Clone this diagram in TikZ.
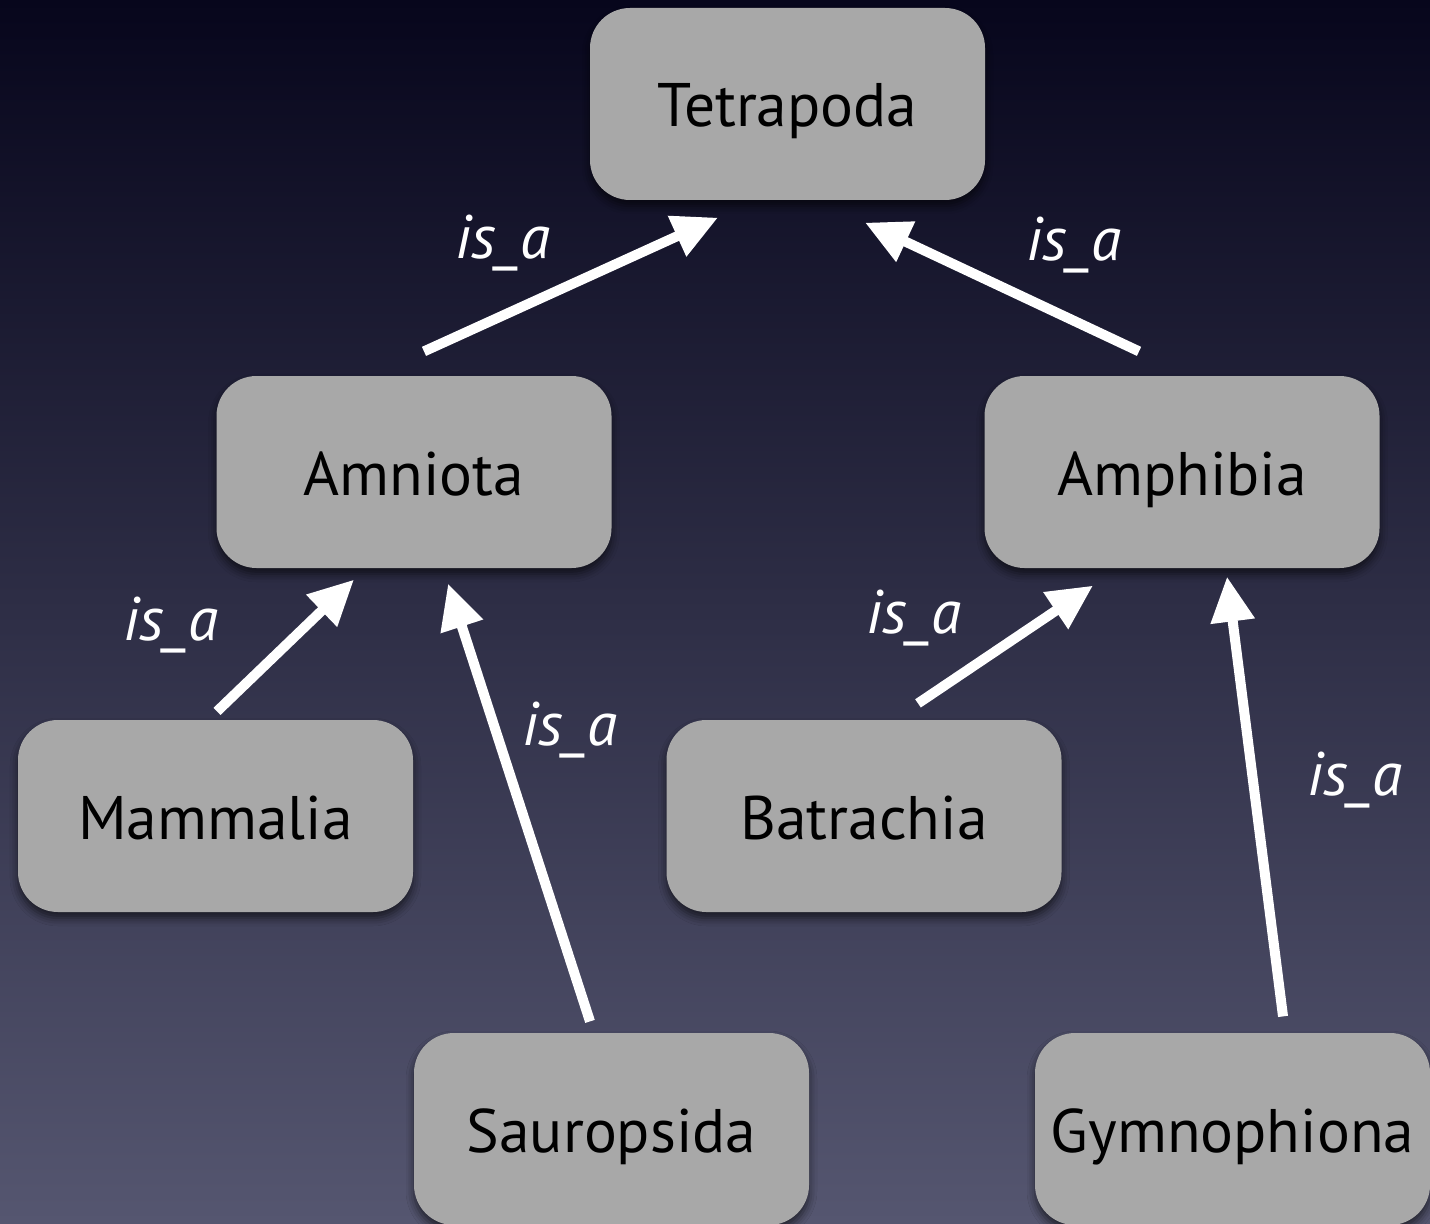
\documentclass[tikz,border=0pt]{standalone}
\usepackage{fontspec}
\setmainfont{PT Sans}
\usetikzlibrary{arrows.meta,shadows.blur}
\definecolor{bgtop}{HTML}{07061C}
\definecolor{bgbot}{HTML}{555670}
\definecolor{taxongray}{HTML}{A8A8A8}
\begin{document}
\begin{tikzpicture}[x=1cm,y=1cm,line width=.35pt,font=\fontsize{17.5}{21}\selectfont,
  taxon/.style={fill=taxongray,rounded corners=.4cm,minimum width=3.95cm,minimum height=1.92cm,inner sep=0pt,
    text height=.56cm,text depth=.10cm,
    blur shadow={shadow xshift=0pt,shadow yshift=-.06cm,shadow blur radius=.08cm,shadow opacity=60}},
  isa/.style={draw=white,line width=.1cm,-{Triangle[length=.45cm,width=.42cm]}},
  isalabel/.style={text=white,inner sep=0pt,font=\fontsize{17.5}{21}\selectfont\itshape}]
\useasboundingbox (0,0) rectangle (14.3,12.23);
\shade[top color=bgtop,bottom color=bgbot] (0,0) rectangle (14.3,12.23);
\node[taxon] (tetrapoda) at (7.875,11.19) {Tetrapoda};
\node[taxon] (amniota) at (4.14,7.51) {Amniota};\node[taxon] (amphibia) at (11.82,7.51) {Amphibia};
\node[taxon] (mammalia) at (2.155,4.07) {Mammalia};\node[taxon] (batrachia) at (8.64,4.07) {Batrachia};
\node[taxon] (sauropsida) at (6.115,.94) {Sauropsida};\node[taxon] (gymnophiona) at (12.325,.94) {Gymnophiona};
\draw[isa] ([shift={(.10,.24)}]amniota.north) -- ([shift={(-.695,-.17)}]tetrapoda.south);
\draw[isa] ([shift={(-.43,.24)}]amphibia.north) -- ([shift={(.775,-.22)}]tetrapoda.south);
\draw[isa] ([shift={(.015,.08)}]mammalia.north) -- ([shift={(-.60,-.11)}]amniota.south);
\draw[isa] ([shift={(-.215,.11)}]sauropsida.north) -- ([shift={(.34,-.15)}]amniota.south);
\draw[isa] ([shift={(.54,.16)}]batrachia.north) -- ([shift={(-.89,-.17)}]amphibia.south);
\draw[isa] ([shift={(.505,.16)}]gymnophiona.north) -- ([shift={(.45,-.08)}]amphibia.south);
\node[isalabel] (isa1) at (5.03,9.80) {is\_a};\node[isalabel] (isa2) at (10.74,9.78) {is\_a};
\node[isalabel] (isa3) at (1.71,5.98) {is\_a};\node[isalabel] (isa4) at (5.70,4.93) {is\_a};
\node[isalabel] (isa5) at (9.14,6.05) {is\_a};\node[isalabel] (isa6) at (13.55,4.43) {is\_a};
\end{tikzpicture}
\end{document}
